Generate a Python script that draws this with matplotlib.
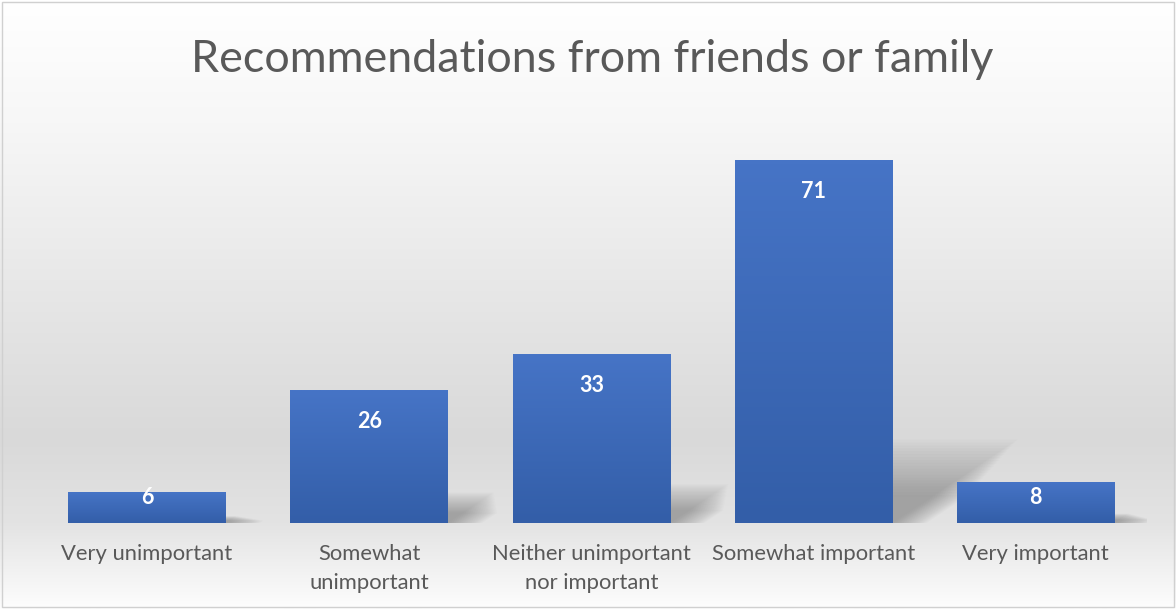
import numpy as np
import matplotlib
matplotlib.use("Agg")
from matplotlib import pyplot as plt
from matplotlib.colors import LinearSegmentedColormap
from matplotlib.patches import Polygon, Rectangle

categories = ["Very unimportant", "Somewhat\nunimportant", "Neither unimportant\nnor important",
              "Somewhat important", "Very important"]
values = [6, 26, 33, 71, 8]
title = "Recommendations from friends or family"

plt.rcParams['font.family'] = ['Lato', 'DejaVu Sans']

fig = plt.figure(figsize=(11.76, 6.09), dpi=100)

# background gradient (white top, grey lower middle, light at bottom)
bg = fig.add_axes([0, 0, 1, 1], zorder=0)
bg_cmap = LinearSegmentedColormap.from_list(
    "bg", [(0.0, "#ffffff"), (0.2, "#f7f7f7"), (0.72, "#d9d9d9"), (0.86, "#e3e3e3"), (1.0, "#fdfdfd")])
bg.imshow(np.linspace(0, 1, 256).reshape(-1, 1), aspect="auto", cmap=bg_cmap,
          extent=[0, 1, 1, 0])
bg.set_xlim(0, 1)
bg.set_ylim(1, 0)
bg.axis("off")
bg.add_patch(Rectangle((0.002, 0.004), 0.996, 0.992, fill=False, edgecolor="#d0d0d0", lw=1.0))

ax = fig.add_axes([0.0306, 0.1412, 0.9447, 0.6716], zorder=1)
ax.set_facecolor("none")
x = np.arange(len(values))
bars = ax.bar(x, values, width=0.71, color="#3f6cbd", zorder=3)

# soft perspective shadows to the right of each bar
px_x = 1111 / 5.0
px_y = 363 / 71.0
for xi, v in zip(x, values):
    h = 0.23 * v
    shift = 1.5 * h * px_y / px_x
    left, right = xi - 0.355, xi + 0.355
    n = 20
    for k in range(n):
        s = 1 - k * 0.035
        d = 0.008 * k
        poly = Polygon([(left, 0), (right + d, 0), (right + shift * s + d, h * s),
                        (left + shift * s, h * s)], closed=True, facecolor="#606060",
                       alpha=0.028, lw=0, zorder=2)
        ax.add_patch(poly)

# bar gradient
bar_cmap = LinearSegmentedColormap.from_list("bar", ["#335ea8", "#4674c6"])
for b in bars:
    bx, by, bw, bh = b.get_x(), b.get_y(), b.get_width(), b.get_height()
    im = ax.imshow(np.linspace(0, 1, 100).reshape(-1, 1), aspect="auto", cmap=bar_cmap,
                   extent=[bx, bx + bw, by, by + bh], origin="lower", zorder=4)
    im.set_clip_path(b)
ax.set_xlim(-0.5, len(values) - 0.5)
ax.set_ylim(0, 80)

for xi, v in zip(x, values):
    ly = max(v - 31 / px_y, 26 / px_y)
    ax.text(xi, ly, str(v), ha="center", va="center", color="white",
            fontsize=15.5, fontweight="bold", zorder=5)

ax.set_xticks(x)
ax.set_xticklabels(categories, fontsize=15.8, color="#595959", linespacing=1.6)
ax.tick_params(axis="x", length=0, pad=15)
ax.set_yticks([])
for sp in ax.spines.values():
    sp.set_visible(False)

fig.text(0.5035, 0.903, title, ha="center", va="center", fontsize=32.3, color="#595959")

plt.savefig("out.png", dpi=100)
